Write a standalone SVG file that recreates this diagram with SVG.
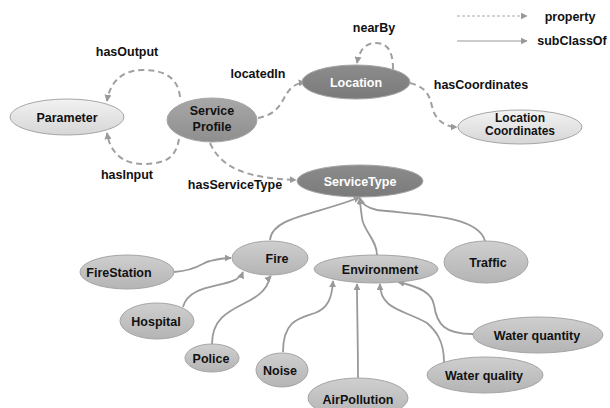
<svg xmlns="http://www.w3.org/2000/svg" width="610" height="408" viewBox="0 0 610 408">
<defs>
<linearGradient id="gLight" x1="0" y1="0" x2="0" y2="1"><stop offset="0" stop-color="#f2f2f2"/><stop offset="1" stop-color="#d6d6d6"/></linearGradient>
<linearGradient id="gMid" x1="0" y1="0" x2="0" y2="1"><stop offset="0" stop-color="#cfcfcf"/><stop offset="1" stop-color="#b4b4b4"/></linearGradient>
<linearGradient id="gDark" x1="0" y1="0" x2="0" y2="1"><stop offset="0" stop-color="#a8a8a8"/><stop offset="1" stop-color="#8e8e8e"/></linearGradient>
<linearGradient id="gDarker" x1="0" y1="0" x2="0" y2="1"><stop offset="0" stop-color="#8c8c8c"/><stop offset="1" stop-color="#7a7a7a"/></linearGradient>
<marker id="arr" viewBox="0 0 10 10" refX="9" refY="5" markerWidth="7" markerHeight="7" markerUnits="userSpaceOnUse" orient="auto"><path d="M0,0 L10,5 L0,10 z" fill="#999"/></marker>
</defs>
<style>
text{font-family:"Liberation Sans",Arial,sans-serif;font-weight:bold;font-size:12.5px;fill:#111;text-anchor:middle}
.w{fill:#fff}
.sm{font-size:12px}
.n ellipse{stroke:#a6a6a6;stroke-width:1}
.light{fill:url(#gLight)}
.mid{fill:url(#gMid)}
.dark{fill:url(#gDark)}
.darker{fill:url(#gDarker)}
.dash{fill:none;stroke:#a0a0a0;stroke-width:2;stroke-dasharray:6,4;marker-end:url(#arr)}
.sub{fill:none;stroke:#999;stroke-width:1.8;marker-end:url(#arr)}
.ldash{fill:none;stroke:#aaa;stroke-width:1;stroke-dasharray:3,2;marker-end:url(#arr)}
.lsub{fill:none;stroke:#999;stroke-width:1.2;marker-end:url(#arr)}
</style>
<g id="connectors">
<path class="dash" d="M180,97 C178,78 165,70 143,70 C122,70 110,82 107,101"/>
<path class="dash" d="M179,139 C176,158 165,164 143,164 C122,164 110,152 107,133"/>
<path class="dash" d="M258,118 C290,112 278,86 305,82"/>
<path class="dash" d="M393,69 C393,52 388,43 376,43 C364,43 359,52 357,63"/>
<path class="dash" d="M410,83 C430,88 430,100 433,110 C437,122 447,127 457,127"/>
<path class="dash" d="M210,143 C222,170 250,178 296,180"/>
<path class="sub" d="M270,240 C272,216 320,214 360,197"/>
<path class="sub" d="M377,255 C377,240 363,230 362,218 C361,210 360,205 360,198"/>
<path class="sub" d="M485,241 C478,215 420,215 377,210 C368,208 362,205 360,198"/>
<path class="sub" d="M174,272 C200,270 202,262 210,261 C218,259 224,258 231,258"/>
<path class="sub" d="M183,307 C190,280 236,290 243,272"/>
<path class="sub" d="M212,344 C212,300 263,310 270,277 L271,276"/>
<path class="sub" d="M283,352 C283,320 300,318 315,313 C328,308 332,298 333,281"/>
<path class="sub" d="M358,378 C358,340 357,310 357,284"/>
<path class="sub" d="M444,362 C444,340 435,330 427,323 C405,310 380,310 380,284"/>
<path class="sub" d="M473,334 C445,334 437,325 434,305 C432,293 420,287 398,282"/>
</g>
<g id="legend">
<path class="ldash" d="M457,16 L527,16"/>
<path class="lsub" d="M457,41 L527,41"/>
<text x="570" y="21">property</text>
<text x="572" y="45">subClassOf</text>
</g>
<g id="labels">
<text x="127" y="56">hasOutput</text>
<text x="127" y="179">hasInput</text>
<text x="258" y="78">locatedIn</text>
<text x="235" y="189">hasServiceType</text>
<text x="374" y="32">nearBy</text>
<text x="481" y="89">hasCoordinates</text>
</g>
<g id="Parameter" class="n"><ellipse class="light" cx="67" cy="117" rx="57" ry="18"/><text x="67" y="122">Parameter</text></g>
<g id="ServiceProfile" class="n"><ellipse class="dark" cx="212" cy="120" rx="45" ry="22"/><text x="212" y="115">Service</text><text x="212" y="131">Profile</text></g>
<g id="Location" class="n"><ellipse class="darker" cx="356" cy="82" rx="54" ry="17"/><text class="w" x="356" y="87">Location</text></g>
<g id="LocationCoordinates" class="n"><ellipse class="light" cx="520" cy="127" rx="62" ry="17"/><text class="sm" x="520" y="122">Location</text><text class="sm" x="520" y="135">Coordinates</text></g>
<g id="ServiceType" class="n"><ellipse class="darker" cx="360" cy="181" rx="63" ry="16"/><text class="w" x="360" y="186">ServiceType</text></g>
<g id="Fire" class="n"><ellipse class="mid" cx="270" cy="258" rx="38" ry="17"/><text x="277" y="263">Fire</text></g>
<g id="FireStation" class="n"><ellipse class="mid" cx="127" cy="272" rx="47" ry="17"/><text x="119" y="277">FireStation</text></g>
<g id="Hospital" class="n"><ellipse class="mid" cx="157" cy="321" rx="37" ry="18"/><text x="156" y="326">Hospital</text></g>
<g id="Police" class="n"><ellipse class="mid" cx="212" cy="358" rx="27" ry="14"/><text x="211" y="363">Police</text></g>
<g id="Noise" class="n"><ellipse class="mid" cx="282" cy="370" rx="26" ry="17"/><text x="280" y="375">Noise</text></g>
<g id="Environment" class="n"><ellipse class="mid" cx="376" cy="269" rx="62" ry="14"/><text x="380" y="274">Environment</text></g>
<g id="Traffic" class="n"><ellipse class="mid" cx="486" cy="262" rx="42" ry="21"/><text x="488" y="267">Traffic</text></g>
<g id="WaterQuantity" class="n"><ellipse class="mid" cx="538" cy="335" rx="65" ry="18"/><text x="537" y="340">Water quantity</text></g>
<g id="WaterQuality" class="n"><ellipse class="mid" cx="485" cy="375" rx="58" ry="18"/><text x="484" y="380">Water quality</text></g>
<g id="AirPollution" class="n"><ellipse class="mid" cx="358" cy="398" rx="50" ry="20"/><text x="358" y="404">AirPollution</text></g>
</svg>
